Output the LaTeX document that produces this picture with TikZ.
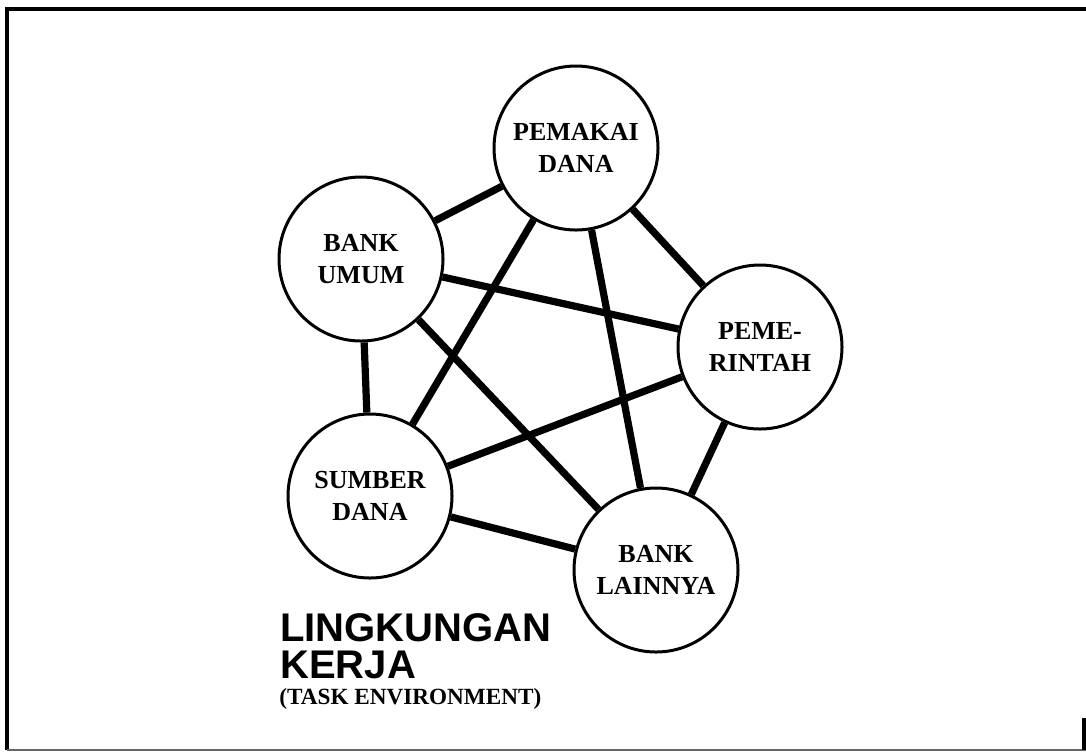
\documentclass[tikz,border=0pt]{standalone}
\usepackage{fontspec}
\setmainfont{Liberation Serif}
\newfontfamily\headsans{Liberation Sans}
\begin{document}
\begin{tikzpicture}[x=0.5pt,y=-0.5pt,
  actor/.style={circle,draw=black,line width=1.5pt,fill=white,minimum size=82pt,inner sep=0pt,
    align=center,font=\bfseries\fontsize{13}{16}\selectfont},
  link/.style={line width=3.6pt,draw=black},
  frame/.style={line width=2pt,draw=black},
  heading/.style={anchor=north west,inner sep=0pt,align=left,
    font=\headsans\bfseries\fontsize{20}{18.5}\selectfont},
  subheading/.style={anchor=north west,inner sep=0pt,
    font=\bfseries\fontsize{11.6}{12}\selectfont}]
\useasboundingbox (0,0) rectangle (1086,752);
% frame
\draw[frame] (1086,9) -- (7,9) -- (7,750);
\draw[line width=1pt,draw=black!60] (7,750) -- (1086,750);
\draw[frame] (1084,718) -- (1084,750);
% actors
\node[actor] (pd) at (576,148) {PEMAKAI\\DANA};
\node[actor] (bu) at (361,259) {BANK\\UMUM};
\node[actor] (pe) at (760,347) {PEME-\\RINTAH};
\node[actor] (sd) at (370,496) {SUMBER\\DANA};
\node[actor] (bl) at (656,570) {BANK\\LAINNYA};
% links
\draw[link] (bu) -- (pd);
\draw[link] (pd) -- (pe);
\draw[link] (pd) -- (sd);
\draw[link] (pd) -- (bl);
\draw[link] (bu) -- (pe);
\draw[link] (bu) -- (sd);
\draw[link] (bu) -- (bl);
\draw[link] (pe) -- (sd);
\draw[link] (pe) -- (bl);
\draw[link] (sd) -- (bl);
% title
\node[heading] (title) at (280,613) {LINGKUNGAN\\KERJA};
\node[subheading] (sub) at (279,688) {(TASK ENVIRONMENT)};
\end{tikzpicture}
\end{document}
